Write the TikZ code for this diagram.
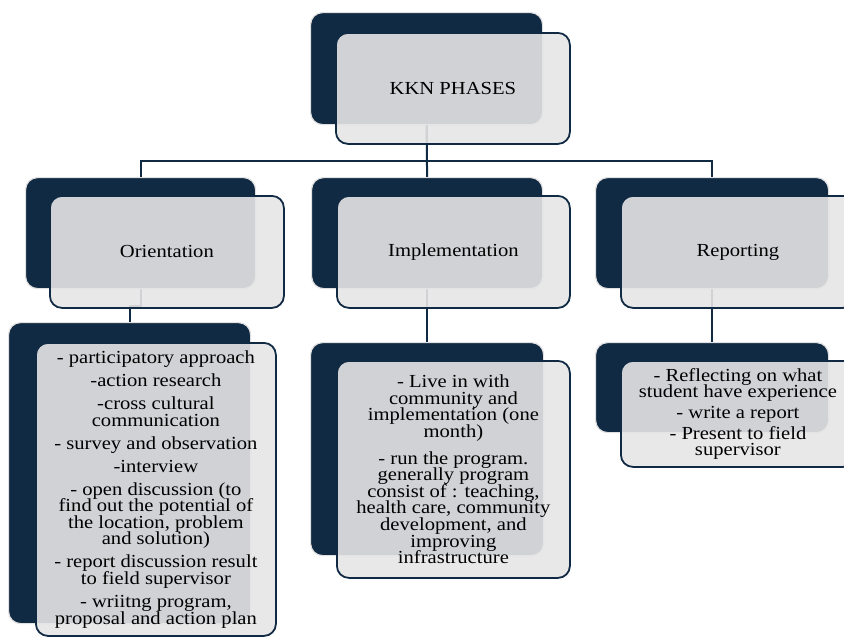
\documentclass[tikz,border=0pt]{standalone}
\usepackage{fontspec}
\setmainfont{Liberation Serif}[FakeStretch=1.12]
\usepackage{tikz}
\usetikzlibrary{shadows,arrows}
\pgfdeclarelayer{background}
\pgfsetlayers{background,main}
\definecolor{azul}{RGB}{17,42,68}
\newcommand{\letracaja}{\fontsize{9.2}{8.3}\selectfont
  \setlength{\lineskiplimit}{-20pt}}
\tikzstyle{fondo}=[draw=black!12, line width=0.6pt, fill=azul,
  rounded corners=6pt, anchor=north west, inner sep=0pt]
\tikzstyle{caja}=[draw=azul, line width=0.9pt, fill=black!10,
  fill opacity=0.9, text opacity=1, rounded corners=6pt,
  anchor=north west, align=center, inner sep=0pt, font=\letracaja]
\tikzstyle{line}=[draw, color=azul, line width=1pt]
\newcommand{\sombra}[3]{node (d#1) [fondo, minimum width=#2,
  minimum height=#3] {}}
\newcommand{\etapa}[4]{node (p#1) [caja, minimum width=#2,
  minimum height=#3] {#4}}

\begin{document}
\begin{tikzpicture}[x=0.5pt,y=-0.5pt]
\useasboundingbox (0,0) rectangle (844,637);

  % Dark boxes
\path (310,12) \sombra{1}{116pt}{56pt};
\path (25,177) \sombra{2}{115pt}{55.5pt};
\path (311,177) \sombra{3}{115.5pt}{55.5pt};
\path (595,177) \sombra{4}{116.5pt}{55.5pt};
\path (8,322) \sombra{5}{121pt}{150.5pt};
\path (310,342) \sombra{6}{116.5pt}{106.5pt};
\path (595,342) \sombra{7}{116.5pt}{45pt};

  % Light boxes with text
\path (d1.north west)+(25,20) \etapa{1}{117pt}{55.5pt}{KKN PHASES};
\path (d2.north west)+(24,18) \etapa{2}{117pt}{56pt}{Orientation};
\path (d3.north west)+(25,18) \etapa{3}{116.5pt}{56pt}{Implementation};
\path (d4.north west)+(25,18) \etapa{4}{117pt}{56pt}{Reporting};
\path (d5.north west)+(27,20) \etapa{5}{120pt}{146.5pt}{%
  - participatory approach\\[3.2pt]
  -action research\\[3.2pt]
  -cross cultural\\communication\\[3.2pt]
  - survey and observation\\[3.2pt]
  -interview\\[3.2pt]
  - open discussion (to\\find out the potential of\\
  the location, problem\\and solution)\\[3.2pt]
  - report discussion result\\to field supervisor\\[3.2pt]
  - wriitng program,\\proposal and action plan};
\path (d6.north west)+(26,18) \etapa{6}{116.5pt}{108.5pt}{%
  - Live in with\\community and\\implementation (one\\month)\\[5pt]
  - run the program.\\generally program\\consist of : teaching,\\
  health care, community\\development, and\\improving\\infrastructure};
\path (d7.north west)+(25,18) \etapa{7}{117pt}{53pt}{%
  - Reflecting on what\\student have experience\\[2pt]
  - write a report\\[2pt]
  - Present to field\\supervisor};

  % Connectors behind the boxes
\begin{pgfonlayer}{background}
\path [line] (d1.south) -- +(0,36) -| (d2.north);
\path [line] (d1.south) -- (d3.north);
\path [line] (d1.south) -- +(0,36) -| (d4.north);
\path [line] (d2.south) -- +(0,17) -| (d5.north);
\path [line] (d3.south) -- (d6.north);
\path [line] (d4.south) -- (d7.north);
\end{pgfonlayer}
\end{tikzpicture}
\end{document}
